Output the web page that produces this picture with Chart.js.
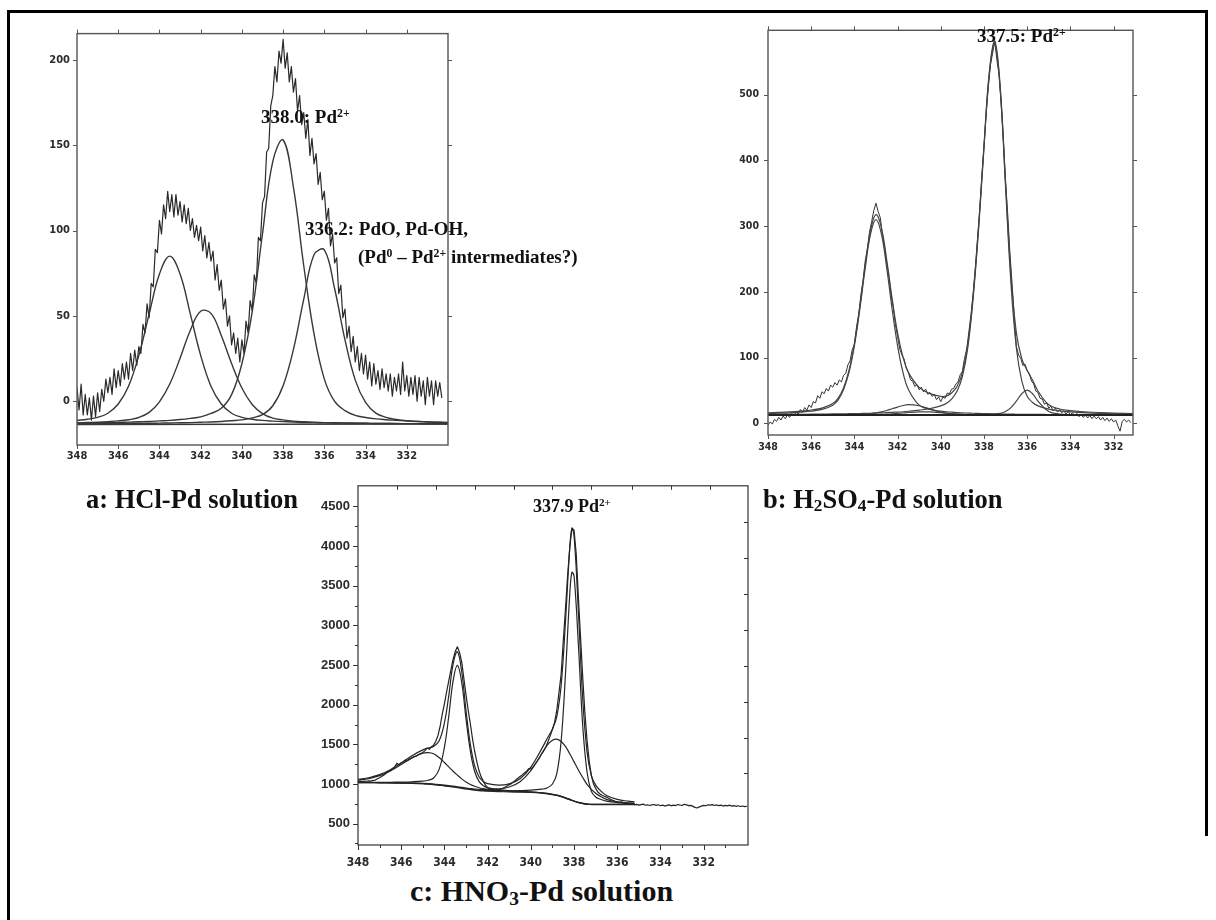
<!DOCTYPE html>
<html>
<head>
<meta charset="utf-8">
<title>Pd 3d XPS spectra</title>
<script src="https://cdn.jsdelivr.net/npm/chart.js@4.4.1/dist/chart.umd.min.js"></script>
<style>
  body { margin: 0; background: #fff; }
  #page { position: relative; width: 1216px; height: 920px; overflow: hidden; background: #fff; }
  .bar { position: absolute; background: #000; }
  canvas { position: absolute; }
  .txt { position: absolute; font-family: 'Liberation Serif', 'Times New Roman', serif; font-weight: bold;
         color: #111; white-space: nowrap; line-height: 1; }
  .txt sup { font-size: 62%; vertical-align: 0.55em; line-height: 0; }
  .txt sub { font-size: 65%; vertical-align: -0.2em; line-height: 0; }
</style>
</head>
<body>
<div id="page">
  <div class="bar" style="left:7px;top:10px;width:1201px;height:3px"></div>
  <div class="bar" style="left:7px;top:10px;width:3px;height:910px"></div>
  <div class="bar" style="left:1205px;top:10px;width:3px;height:826px"></div>

  <canvas id="chartA" width="430" height="450" style="left:30px;top:20px"></canvas>
  <canvas id="chartB" width="420" height="450" style="left:735px;top:15px"></canvas>
  <canvas id="chartC" width="470" height="400" style="left:300px;top:470px"></canvas>

  <div class="txt" style="left:261px;top:107px;font-size:19px">338.0: Pd<sup>2+</sup></div>
  <div class="txt" style="left:305px;top:219px;font-size:19px">336.2: PdO, Pd-OH,</div>
  <div class="txt" style="left:358px;top:247px;font-size:19px">(Pd<sup>0</sup> – Pd<sup>2+</sup> intermediates?)</div>
  <div class="txt" style="left:977px;top:26px;font-size:19px">337.5: Pd<sup>2+</sup></div>
  <div class="txt" style="left:533px;top:497px;font-size:18px">337.9 Pd<sup>2+</sup></div>

  <div class="txt" style="left:86px;top:486px;font-size:26.5px">a: HCl-Pd solution</div>
  <div class="txt" style="left:763px;top:486px;font-size:26.5px">b: H<sub>2</sub>SO<sub>4</sub>-Pd solution</div>
  <div class="txt" style="left:410px;top:876px;font-size:30px">c: HNO<sub>3</sub>-Pd solution</div>
</div>

<script>
// ---------- a: HCl-Pd solution ----------
const hclXTicks = [348, 346, 344, 342, 340, 338, 336, 334, 332];
const hclYTicks = [0, 50, 100, 150, 200];
const hclRawStart = 348.0, hclRawStep = 0.1;
const hclRaw = [
  8, -5, 10, -8, 4, -8, 2, -11, 3, -9,
  5, -6, 7, 0, 13, 5, 14, 4, 19, 8,
  18, 9, 22, 13, 23, 13, 28, 18, 30, 21,
  32, 28, 45, 40, 57, 49, 69, 67, 89, 87,
  106, 98, 115, 107, 123, 111, 121, 108, 121, 109,
  117, 105, 115, 104, 113, 100, 107, 96, 103, 94,
  102, 88, 97, 84, 93, 82, 88, 71, 80, 65,
  71, 54, 60, 44, 50, 33, 40, 28, 37, 23,
  36, 28, 47, 40, 59, 53, 74, 69, 96, 94,
  116, 120, 146, 148, 173, 179, 196, 187, 205, 198,
  212, 195, 204, 187, 196, 181, 189, 170, 179, 162,
  169, 154, 165, 144, 154, 139, 145, 127, 134, 118,
  123, 106, 113, 91, 98, 81, 84, 63, 68, 49,
  54, 37, 44, 29, 38, 23, 32, 18, 28, 16,
  27, 13, 23, 9, 22, 10, 18, 7, 19, 8,
  16, 6, 16, 3, 14, 6, 16, 4, 23, 6,
  15, 3, 14, 4, 15, 0, 14, 3, 12, -2,
  14, 3, 12, -2, 12, 3, 11, 2
];
const hclFitE = [348, 347.5, 347, 346.5, 346, 345.5, 345, 344.5, 344, 343.5, 343, 342.5, 342, 341.5, 341, 340.5,
  340, 339.5, 339, 338.5, 338, 337.5, 337, 336.5, 336, 335.5, 335, 334.5, 334, 333.5, 333, 332.5, 332, 331.5, 331, 330.5, 330];
const hclPk343 = [-11.2, -10.5, -9.4, -7.0, -1.6, 8.8, 26.9, 51.0, 74.5, 85.0, 74.5, 51.0, 26.9, 8.8, -1.6, -7.0,
  -9.4, -10.5, -11.2, -11.6, -11.9, -12.1, -12.4, -12.5, -12.6, -12.7, -12.8, -12.85, -12.9, -13.0, -13.0, -13.05, -13.1, -13.1, -13.15, -13.2, -13.2];
const hclPk342 = [-12.6, -12.4, -12.2, -11.9, -11.5, -10.8, -9.5, -6.5, -0.3, 10.1, 25.2, 41.6, 52.7, 51.5, 38.5, 22.1,
  7.8, -1.9, -7.2, -9.9, -10.9, -11.6, -12.0, -12.3, -12.5, -12.6, -12.7, -12.8, -12.9, -13.0, -13.0, -13.1, -13.1, -13.1, -13.2, -13.2, -13.2];
const hclPk338 = [-12.8, -12.7, -12.6, -12.5, -12.4, -12.2, -12.0, -11.8, -11.5, -11.2, -10.7, -10.0, -9.1, -7.1, -4.1, 3.9,
  22.0, 52.3, 98.1, 140.5, 153.0, 125.4, 79.5, 39.4, 13.0, -0.1, -5.5, -8.3, -9.5, -10.3, -10.8, -11.2, -11.6, -11.9, -12.1, -12.3, -12.4];
const hclPk336 = [-13.2, -13.2, -13.1, -13.1, -13.1, -13.0, -12.9, -12.9, -12.8, -12.7, -12.6, -12.5, -12.3, -12.1, -11.8, -11.4,
  -10.9, -9.7, -7.8, -2.6, 9.1, 30.4, 59.7, 85.8, 88.6, 65.9, 36.1, 12.4, -0.6, -6.9, -9.4, -10.7, -11.3, -11.7, -12.0, -12.3, -12.5];
const hclBaseE = [348, 330];
const hclBase = [-13.6, -13.3];

// ---------- b: H2SO4-Pd solution ----------
const h2so4XTicks = [348, 346, 344, 342, 340, 338, 336, 334, 332];
const h2so4YTicks = [0, 100, 200, 300, 400, 500];
const h2so4RawStart = 348.0, h2so4RawStep = 0.1;
const h2so4Raw = [
  -3, 2, -1, 6, 3, 9, 5, 11, 7, 13, 9,
  15, 11, 17, 14, 21, 17, 24, 20, 28, 24,
  33, 31, 42, 38, 48, 45, 53, 49, 58, 55,
  62, 58, 66, 63, 73, 76, 89, 95, 112, 120,
  147, 166, 195, 217, 247, 265, 291, 307, 324, 335,
  322, 313, 286, 268, 243, 223, 195, 176, 150, 132,
  113, 104, 98, 84, 77, 66, 64, 56, 59, 51,
  55, 48, 52, 44, 47, 41, 44, 36, 40, 33,
  40, 38, 46, 45, 52, 53, 60, 63, 74, 79,
  99, 113, 139, 166, 198, 237, 281, 324, 376, 421,
  470, 511, 546, 563, 582, 552, 530, 484, 430, 368,
  318, 260, 213, 164, 117, 104, 99, 88, 90, 80,
  76, 64, 60, 49, 47, 38, 37, 29, 31, 23,
  26, 19, 23, 17, 21, 16, 19, 14, 18, 13,
  16, 11, 15, 10, 14, 9, 13, 8, 12, 7,
  11, 7, 10, 5, 9, 4, 8, 3, 7, 2,
  5, -4, -12, 3, 6, 2, 5, 1
];
const h2so4FitE = [348, 347.5, 347, 346.5, 346, 345.5, 345, 344.75, 344.5, 344.25, 344, 343.75, 343.5, 343.25, 343, 342.75,
  342.5, 342.25, 342, 341.75, 341.5, 341, 340.5, 340, 339.75, 339.5, 339.25, 339, 338.75, 338.5, 338.25, 338,
  337.75, 337.5, 337.25, 337, 336.75, 336.5, 336.25, 336, 335.75, 335.5, 335, 334.5, 334, 333, 332, 331];
const h2so4Pk343 = [14.8, 15.3, 15.9, 17.0, 18.4, 21.1, 27.6, 35.7, 51.5, 77.4, 117.8, 173.2, 235.5, 288.3, 310, 288.3,
  235.5, 173.2, 117.8, 77.4, 51.5, 27.6, 21.1, 18.4, 17.6, 17.0, 16.4, 15.9, 15.6, 15.3, 15.0, 14.8,
  14.6, 14.4, 14.3, 14.0, 13.9, 13.8, 13.7, 13.6, 13.6, 13.5, 13.4, 13.3, 13.3, 13.2, 13.1, 13.0];
const h2so4Pk337 = [13.4, 13.5, 13.6, 13.7, 13.9, 14.0, 14.2, 14.3, 14.4, 14.6, 14.8, 14.9, 15.1, 15.3, 15.6, 15.9,
  16.3, 16.7, 17.1, 17.6, 18.3, 20.1, 22.4, 26.6, 30.0, 36.8, 48.6, 71.2, 114.7, 190.9, 294.8, 418.9,
  531.8, 577, 508.1, 358.5, 212.3, 114.7, 64.4, 41.1, 31.7, 26.6, 21.5, 19.0, 17.4, 15.4, 14.5, 13.9];
const h2so4Pk341 = [12.6, 12.65, 12.7, 12.7, 12.75, 12.8, 12.85, 12.9, 13.0, 13.1, 13.25, 13.5, 13.9, 14.7, 15.8, 17.4,
  19.5, 22.1, 24.7, 27.1, 28.4, 26.7, 21.6, 17.0, 15.5, 14.5, 13.8, 13.4, 13.2, 13.05, 12.95, 12.9,
  12.85, 12.8, 12.8, 12.75, 12.75, 12.7, 12.7, 12.7, 12.7, 12.7, 12.7, 12.65, 12.65, 12.6, 12.6, 12.6];
const h2so4Pk340 = [12.6, 12.6, 12.6, 12.6, 12.65, 12.65, 12.7, 12.7, 12.7, 12.75, 12.8, 12.85, 12.9, 13.0, 13.2, 13.5,
  13.9, 14.4, 15.0, 15.7, 16.4, 17.4, 17.3, 16.1, 15.4, 14.8, 14.2, 13.7, 13.35, 13.1, 12.95, 12.85,
  12.8, 12.75, 12.7, 12.7, 12.7, 12.65, 12.65, 12.65, 12.6, 12.6, 12.6, 12.6, 12.6, 12.6, 12.55, 12.55];
const h2so4Pk336 = [12.6, 12.6, 12.6, 12.6, 12.6, 12.6, 12.6, 12.6, 12.6, 12.6, 12.6, 12.6, 12.6, 12.7, 12.7, 12.7,
  12.7, 12.7, 12.7, 12.7, 12.7, 12.8, 12.8, 12.9, 12.9, 12.9, 12.9, 13.0, 13.0, 13.1, 13.2, 13.3,
  13.6, 14.1, 15.2, 18.0, 23.9, 33.8, 45.0, 50.5, 45.0, 33.8, 18.0, 14.1, 13.3, 12.9, 12.8, 12.7];
const h2so4Fit = [16.0, 16.6, 17.4, 18.6, 20.2, 23.1, 30.0, 38.3, 54.3, 80.5, 121.4, 177.1, 240.1, 294.0, 317.4, 297.9,
  248.0, 189.2, 137.5, 100.7, 77.5, 54.6, 45.2, 41.0, 41.4, 46.0, 55.9, 77.2, 119.9, 195.5, 298.9, 422.8,
  535.7, 581.1, 513.1, 366.0, 225.5, 137.7, 98.5, 80.5, 65.6, 49.2, 28.2, 21.7, 19.3, 16.8, 15.6, 14.8];
const h2so4BaseE = [348, 331.1];
const h2so4Base = [12.5, 12.5];

// ---------- c: HNO3-Pd solution ----------
const hno3XTicks = [348, 346, 344, 342, 340, 338, 336, 334, 332];
const hno3XMinor = [347, 345, 343, 341, 339, 337, 335, 333, 331];
const hno3YTicks = [500, 1000, 1500, 2000, 2500, 3000, 3500, 4000, 4500];
const hno3YMinor = [250, 750, 1250, 1750, 2250, 2750, 3250, 3750, 4250];
const hno3TopTicks = [346.2, 344.4, 342.6, 340.8, 339.0, 337.2, 335.3, 333.5, 331.7];
const hno3RightTicks = [1141, 1575, 2030, 2486, 2940, 3395, 3850, 4305];
const hno3RawStart = 348.0, hno3RawStep = 0.1;
const hno3Raw = [
  1030, 1036, 1031, 1038, 1035, 1040, 1037, 1045, 1050, 1066,
  1080, 1098, 1112, 1135, 1158, 1172, 1195, 1216, 1262, 1240,
  1268, 1278, 1302, 1296, 1318, 1330, 1345, 1352, 1372, 1385,
  1398, 1421, 1455, 1438, 1470, 1490, 1540, 1610, 1725, 1880,
  2010, 2160, 2300, 2440, 2570, 2670, 2730, 2660, 2540, 2330,
  2120, 1930, 1760, 1570, 1410, 1280, 1170, 1090, 1035, 985,
  955, 940, 928, 922, 930, 925, 935, 945, 958, 975,
  990, 1005, 1030, 1050, 1072, 1095, 1115, 1140, 1160, 1195,
  1190, 1215, 1250, 1290, 1330, 1380, 1420, 1470, 1540, 1610,
  1690, 1780, 1930, 2150, 2380, 2800, 3200, 3620, 3980, 4230,
  4200, 3900, 3350, 2850, 2350, 1900, 1550, 1290, 1110, 1000,
  945, 900, 875, 858, 845, 835, 820, 805, 795, 783,
  776, 770, 775, 760, 752, 756, 745, 748, 738, 744,
  734, 740, 746, 732, 738, 729, 736, 742, 730, 738,
  726, 734, 722, 731, 737, 725, 733, 728, 741, 735,
  729, 744, 738, 727, 731, 718, 705, 698, 712, 722,
  731, 726, 738, 733, 740, 729, 736, 727, 734, 722,
  730, 725, 733, 721, 728, 719, 726, 716, 723, 714, 720
];
const hno3FitE = [348, 347.5, 347, 346.5, 346, 345.5, 345, 344.75, 344.5, 344.25, 344, 343.8, 343.6, 343.4, 343.2, 343,
  342.8, 342.6, 342.4, 342.2, 342, 341.5, 341, 340.5, 340, 339.5, 339.25, 339, 338.8, 338.6, 338.4, 338.2,
  338.1, 338, 337.8, 337.6, 337.4, 337.2, 337, 336.75, 336.5, 336, 335.5, 335.2];
const hno3Base = [1017, 1016, 1015, 1013, 1011, 1008, 1003, 999, 993, 985, 977, 970, 963, 955, 946, 937,
  929, 922, 917, 913, 910, 905, 900, 897, 893, 884, 876, 866, 855, 840, 822, 802,
  792, 782, 765, 752, 744, 741, 740, 740, 740, 740, 740, 740];
const hno3Pk343 = [1021.5, 1021.5, 1022, 1022.5, 1024.7, 1028.8, 1037, 1047, 1076, 1181, 1464, 1852, 2297, 2495, 2280, 1819,
  1416, 1158, 1033, 979, 955, 930, 916, 908, 901, 890, 881.5, 871, 859.5, 844.3, 826, 805.8,
  795.7, 785.6, 768.4, 755.2, 747, 743.9, 742.8, 742.6, 742.5, 742.3, 742.1, 742];
const hno3Pk338 = [1018.3, 1017.5, 1016.6, 1014.8, 1013, 1010.3, 1005.6, 1001.8, 996, 988.3, 980.5, 973.8, 967, 959.3, 950.6, 942,
  934.3, 927.7, 923.2, 919.7, 917.3, 914.6, 913, 916, 922, 935, 949, 1000, 1131, 1534, 2376, 3387,
  3668, 3623, 2755, 1740, 1151, 907, 836, 804, 784, 766, 757, 754];
const hno3Pk345 = [1047.6, 1068.8, 1106.3, 1165, 1245, 1329.6, 1388, 1395.7, 1380.9, 1334, 1271, 1216, 1161.5, 1112, 1065, 1025,
  994, 971, 953, 941, 931.4, 918.5, 910, 904.5, 899.3, 889.2, 880.8, 870.4, 859.2, 844, 825.8, 805.6,
  795.5, 785.4, 768.2, 755.1, 747, 743.9, 742.8, 742.7, 742.6, 742.4, 742.2, 742.1];
const hno3Pk339 = [1019.7, 1019.1, 1018.4, 1016.8, 1015.4, 1013, 1008.9, 1005.4, 999.9, 992.5, 985.2, 978.9, 972.6, 965.4, 957.4, 949.3,
  942.5, 936.9, 933.7, 931.5, 931.3, 937.7, 962.5, 1029, 1170, 1381, 1487, 1551, 1565, 1536, 1475, 1381,
  1332, 1279, 1177, 1082, 995, 933, 884, 839, 807, 775.5, 762.7, 758.5];
const hno3Fit = [1056.1, 1078.9, 1118.3, 1180.1, 1265.1, 1357.7, 1430.5, 1452.9, 1473.8, 1540.8, 1769.7, 2110.7, 2509.1, 2666.7, 2415, 1924.3,
  1499.8, 1227.6, 1091.9, 1032.2, 1005, 985.8, 1001.5, 1066.5, 1213.3, 1443.2, 1570.3, 1694.4, 1849.7, 2238.3, 3036.8, 3973.4,
  4215.2, 4127, 3173.6, 2076.3, 1408, 1104.8, 985.6, 908.3, 856.1, 806.2, 784, 776.6];

// ---------- helpers ----------
function pairs(es, vs) { return vs.map((v, i) => ({ x: es[i], y: v })); }
function rawPairs(start, step, vs) { return vs.map((v, i) => ({ x: +(start - i * step).toFixed(2), y: v })); }

function line(data, color, width, smooth) {
  return { data, borderColor: color, borderWidth: width, pointRadius: 0, fill: false,
           tension: smooth ? 0.4 : 0, borderJoinStyle: 'round' };
}

// box round the plot area plus tick marks on any side, in or out
const boxTicks = {
  id: 'boxTicks',
  afterDatasetsDraw(chart, args, opts) {
    const { ctx, chartArea: a, scales } = chart;
    ctx.save();
    ctx.strokeStyle = opts.color;
    ctx.lineWidth = opts.width;
    ctx.strokeRect(a.left, a.top, a.right - a.left, a.bottom - a.top);
    ctx.lineWidth = 1;
    ctx.beginPath();
    opts.marks.forEach(m => {
      const horiz = m.side === 'top' || m.side === 'bottom';
      const sc = horiz ? scales.x : scales.y;
      const s = m.out ? 1 : -1;
      m.values.forEach(v => {
        const p = Math.round(sc.getPixelForValue(v)) + 0.5;
        if (m.side === 'bottom') { ctx.moveTo(p, a.bottom); ctx.lineTo(p, a.bottom + s * m.len); }
        if (m.side === 'top') { ctx.moveTo(p, a.top); ctx.lineTo(p, a.top - s * m.len); }
        if (m.side === 'left') { ctx.moveTo(a.left, p); ctx.lineTo(a.left - s * m.len, p); }
        if (m.side === 'right') { ctx.moveTo(a.right, p); ctx.lineTo(a.right + s * m.len, p); }
      });
    });
    ctx.stroke();
    ctx.restore();
  }
};

const narrow = "'Liberation Sans Narrow', 'DejaVu Sans Condensed', 'Liberation Sans', sans-serif";

function makeChart(id, p) {
  new Chart(document.getElementById(id), {
    type: 'line',
    data: { datasets: p.datasets },
    plugins: [boxTicks],
    options: {
      responsive: false, animation: false, devicePixelRatio: 1,
      layout: { padding: p.pad },
      plugins: { legend: { display: false }, tooltip: { enabled: false },
                 boxTicks: { color: p.boxColor, width: p.boxWidth, marks: p.marks } },
      scales: {
        x: {
          type: 'linear', reverse: true, min: p.xMin, max: p.xMax,
          grid: { display: false, drawTicks: false }, border: { display: false },
          afterBuildTicks: s => { s.ticks = p.xTicks.map(v => ({ value: v })); },
          afterFit: s => { s.height = p.xH; },
          ticks: { color: '#2b2b2b', padding: p.xPad, maxRotation: 0, autoSkip: false,
                   font: p.xFont, callback: v => String(v) }
        },
        y: {
          type: 'linear', min: p.yMin, max: p.yMax,
          grid: { display: false, drawTicks: false }, border: { display: false },
          afterBuildTicks: s => { s.ticks = p.yTicks.map(v => ({ value: v })); },
          afterFit: s => { s.width = p.yW; },
          ticks: { color: '#2b2b2b', padding: p.yPad, autoSkip: false,
                   font: p.yFont, callback: v => String(v) }
        }
      }
    }
  });
}

// a
const cA = '#383838';
makeChart('chartA', {
  pad: { left: 0, top: 11, right: 12, bottom: 5 }, xH: 20, yW: 47,
  xMin: 330, xMax: 348, yMin: -25.6, yMax: 215.3,
  xTicks: hclXTicks, yTicks: hclYTicks, xPad: 5, yPad: 7,
  xFont: { family: narrow, size: 11, weight: 'bold' }, yFont: { family: narrow, size: 11, weight: 'bold' },
  boxColor: '#555', boxWidth: 1.4,
  marks: [
    { side: 'bottom', values: hclXTicks, len: 4, out: true },
    { side: 'top', values: hclXTicks, len: 4, out: true },
    { side: 'left', values: hclYTicks, len: 4, out: true },
    { side: 'right', values: hclYTicks, len: 4, out: true }
  ],
  datasets: [
    line(pairs(hclBaseE, hclBase), cA, 1.6, false),
    line(pairs(hclFitE, hclPk343), cA, 1.4, true),
    line(pairs(hclFitE, hclPk342), cA, 1.4, true),
    line(pairs(hclFitE, hclPk338), cA, 1.4, true),
    line(pairs(hclFitE, hclPk336), cA, 1.4, true),
    line(rawPairs(hclRawStart, hclRawStep, hclRaw), '#2a2a2a', 1.2, false)
  ]
});

// b
const cB = '#444';
makeChart('chartB', {
  pad: { left: 0, top: 14, right: 22, bottom: 10 }, xH: 20, yW: 33,
  xMin: 331.1, xMax: 348, yMin: -17.8, yMax: 598,
  xTicks: h2so4XTicks, yTicks: h2so4YTicks, xPad: 6, yPad: 9,
  xFont: { family: narrow, size: 10.5, weight: 'bold' }, yFont: { family: narrow, size: 10.5, weight: 'bold' },
  boxColor: '#555', boxWidth: 1.4,
  marks: [
    { side: 'bottom', values: h2so4XTicks, len: 4, out: true },
    { side: 'top', values: h2so4XTicks, len: 4, out: true },
    { side: 'left', values: h2so4YTicks, len: 4, out: true },
    { side: 'right', values: h2so4YTicks, len: 4, out: true }
  ],
  datasets: [
    line(pairs(h2so4BaseE, h2so4Base), '#222', 2, false),
    line(pairs(h2so4FitE, h2so4Pk343), cB, 1.2, true),
    line(pairs(h2so4FitE, h2so4Pk337), cB, 1.2, true),
    line(pairs(h2so4FitE, h2so4Pk341), cB, 1.2, true),
    line(pairs(h2so4FitE, h2so4Pk340), cB, 1.2, true),
    line(pairs(h2so4FitE, h2so4Pk336), cB, 1.2, true),
    line(pairs(h2so4FitE, h2so4Fit), cB, 1.2, true),
    line(rawPairs(h2so4RawStart, h2so4RawStep, h2so4Raw), '#333', 1, false)
  ]
});

// c
const cC = '#252525';
makeChart('chartC', {
  pad: { left: 0, top: 10, right: 22, bottom: 0 }, xH: 25, yW: 58,
  xMin: 329.95, xMax: 348, yMin: 231, yMax: 4760,
  xTicks: hno3XTicks, yTicks: hno3YTicks, xPad: 11, yPad: 8,
  xFont: { family: narrow, size: 12, weight: 'bold' },
  yFont: { family: "'Liberation Sans', Arial, sans-serif", size: 13, weight: 'bold' },
  boxColor: '#333', boxWidth: 1.2,
  marks: [
    { side: 'bottom', values: hno3XTicks, len: 5, out: true },
    { side: 'bottom', values: hno3XMinor, len: 3, out: true },
    { side: 'left', values: hno3YTicks, len: 5, out: true },
    { side: 'left', values: hno3YMinor, len: 3, out: true },
    { side: 'top', values: hno3TopTicks, len: 4, out: false },
    { side: 'right', values: hno3RightTicks, len: 4, out: false }
  ],
  datasets: [
    line(pairs(hno3FitE, hno3Base), cC, 1.2, true),
    line(pairs(hno3FitE, hno3Pk345), cC, 1.2, true),
    line(pairs(hno3FitE, hno3Pk343), cC, 1.2, true),
    line(pairs(hno3FitE, hno3Pk339), cC, 1.2, true),
    line(pairs(hno3FitE, hno3Pk338), cC, 1.2, true),
    line(pairs(hno3FitE, hno3Fit), cC, 1.2, true),
    line(rawPairs(hno3RawStart, hno3RawStep, hno3Raw), '#222', 1.2, false)
  ]
});
</script>
</body>
</html>
